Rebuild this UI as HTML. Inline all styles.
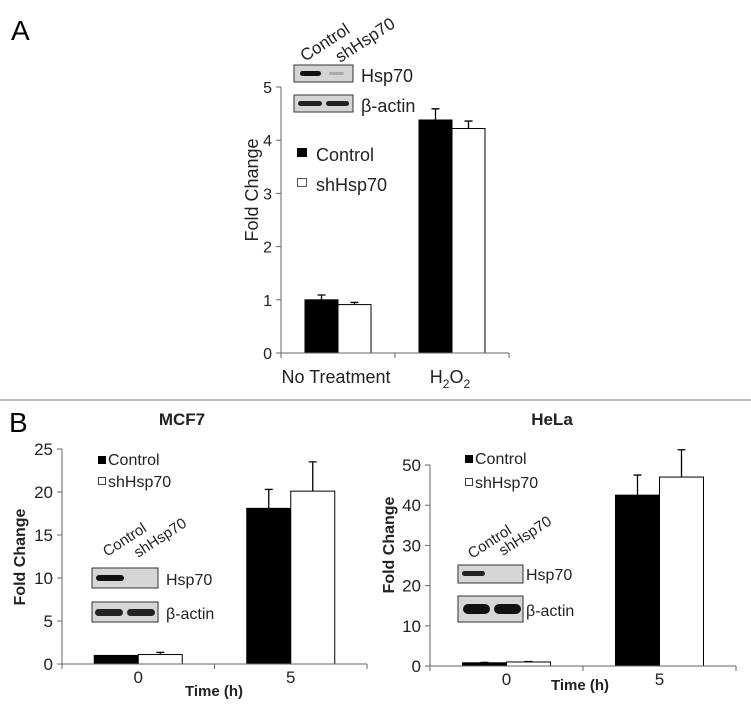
<!DOCTYPE html>
<html><head><meta charset="utf-8"><style>
html,body{margin:0;padding:0;background:#fff;}
svg{display:block;font-family:"Liberation Sans",Arial,sans-serif;}
</style></head><body>
<svg id="fig" width="751" height="713" viewBox="0 0 751 713" xmlns="http://www.w3.org/2000/svg">
<text x="11" y="40" font-size="28">A</text>
<line x1="0" y1="400" x2="751" y2="400" stroke="#bbb" stroke-width="2"/>
<text x="9" y="432" font-size="28">B</text>
</svg>
<script>
// Panel A data
const catsA = ["No Treatment", "H2O2"];
const ctrlA = [1.0, 4.38];
const shA = [0.91, 4.22];
const ctrlErrA = [0.09, 0.21];
const shErrA = [0.04, 0.14];
const ticksA = [0,1,2,3,4,5];
// MCF7 data
const catsM = ["0", "5"];
const ctrlM = [1.0, 18.1];
const shM = [1.1, 20.1];
const ctrlErrM = [0.0, 2.2];
const shErrM = [0.25, 3.4];
const ticksM = [0,5,10,15,20,25];
// HeLa data
const catsH = ["0", "5"];
const ctrlH = [0.8, 42.5];
const shH = [1.0, 47.0];
const ctrlErrH = [0.1, 5.0];
const shErrH = [0.1, 6.8];
const ticksH = [0,10,20,30,40,50];

const NS = "http://www.w3.org/2000/svg";
const svg = document.getElementById("fig");
function mk(tag, attrs, parent) {
  const e = document.createElementNS(NS, tag);
  for (const k in attrs) e.setAttribute(k, attrs[k]);
  (parent || svg).appendChild(e);
  return e;
}

function chart(o) {
  const g = mk("g", {});
  
  
  const yScale = v => o.y0 - (v - o.ticks[0]) / (o.ticks[o.ticks.length-1] - o.ticks[0]) * (o.y0 - o.yTop);
  const n = o.cats.length;
  const bandW = (o.xEnd - o.x0) / n;
  const xCenter = i => o.x0 + bandW * (i + 0.5);
  for (let i = 0; i < n; i++) {
    const c = xCenter(i);
    [[o.ctrl, o.ctrlErr, -1, "#000", "control"], [o.sh, o.shErr, 0, "#fff", "shhsp70"]].forEach(s => {
      const v = s[0][i], e = s[1][i];
      const x = c + s[2] * o.barW;
      const y = yScale(v);
      const r = mk("rect", {x: x, y: y, width: o.barW, height: o.y0 - y, fill: s[3], stroke: "#000", "stroke-width": 1}, g);
      
      
      if (e > 0) {
        const ex = x + o.barW / 2;
        const ey = yScale(v + e);
        const l = mk("path", {d: `M${ex} ${y}V${ey}M${ex-4} ${ey}H${ex+4}`, stroke: "#000", "stroke-width": 1.3, fill: "none"}, g);
        
        
      }
    });
  }
  const ax = mk("path", {d: `M${o.x0} ${o.yTop}V${o.y0}H${o.xEnd}`, stroke: "#666", "stroke-width": 1, fill: "none"}, g);
  
  
  for (let i = 0; i <= n; i++) {
    const tx = o.x0 + bandW * i;
    const t = mk("line", {x1: tx, x2: tx, y1: o.y0, y2: o.y0 + 5, stroke: "#666"}, g);
    
    
  }
  o.ticks.forEach(v => {
    const y = yScale(v);
    const t = mk("line", {x1: o.x0 - 5, x2: o.x0, y1: y, y2: y, stroke: "#666"}, g);
    
    
    const lb = mk("text", {x: o.x0 - 9, y: y + 6, "font-size": o.fs, "text-anchor": "end", fill: "#222"}, g);
    lb.textContent = v;
    
    
  });
  o.cats.forEach((c, i) => {
    const lb = mk("text", {x: xCenter(i) + (o.catDx || 0), y: o.catY, "font-size": o.catFs || o.fs, "text-anchor": "middle", fill: "#222"}, g);
    if (c === "H2O2") {
      lb.innerHTML = 'H<tspan font-size="12" dy="5">2</tspan><tspan dy="-5">O</tspan><tspan font-size="12" dy="5">2</tspan>';
    } else lb.textContent = c;
    
    
  });
  const yt = mk("text", {x: 0, y: 0, transform: `translate(${o.ytX},${o.ytY}) rotate(-90)`, "font-size": o.ytFs, "font-weight": o.bold ? "bold" : "normal", "text-anchor": "middle", fill: "#222"}, g);
  yt.textContent = "Fold Change";
  
  
  return g;
}

chart({name: "chart-a", cats: catsA, ctrl: ctrlA, sh: shA, ctrlErr: ctrlErrA, shErr: shErrA, ticks: ticksA,
  x0: 281, xEnd: 509, y0: 353, yTop: 87, barW: 33, fs: 16, catY: 383, catFs: 18, catDx: -2,
  ytX: 258, ytY: 190, ytFs: 18, bold: false});
chart({name: "chart-mcf7", cats: catsM, ctrl: ctrlM, sh: shM, ctrlErr: ctrlErrM, shErr: shErrM, ticks: ticksM,
  x0: 62, xEnd: 367, y0: 664, yTop: 449, barW: 44, fs: 17, catY: 683, catFs: 17,
  ytX: 25, ytY: 557, ytFs: 16, bold: true});
chart({name: "chart-hela", cats: catsH, ctrl: ctrlH, sh: shH, ctrlErr: ctrlErrH, shErr: shErrH, ticks: ticksH,
  x0: 430, xEnd: 736, y0: 666, yTop: 465, barW: 44, fs: 17, catY: 685, catFs: 17,
  ytX: 394, ytY: 545, ytFs: 16, bold: true});
</script>
<svg style="position:absolute;left:0;top:0" width="751" height="713" xmlns="http://www.w3.org/2000/svg" font-family="Liberation Sans, Arial, sans-serif">
  <rect x="297" y="148" width="10" height="9" fill="#000"/>
  <text x="316" y="161" font-size="18" fill="#222">Control</text>
  <rect x="297.5" y="178.5" width="9" height="8" fill="#fff" stroke="#555"/>
  <text x="316" y="191" font-size="18" fill="#222">shHsp70</text>
  <g>
    <text transform="translate(305,62) rotate(-33)" font-size="17" fill="#222">Control</text>
    <text transform="translate(340,63) rotate(-33)" font-size="17" fill="#222">shHsp70</text>
    <rect x="294" y="65" width="59" height="17" fill="#d4d4d4" stroke="#333"/>
    <rect x="300" y="71" width="21" height="5" rx="2.5" fill="#111"/>
    <rect x="329" y="72" width="15" height="3" rx="1.5" fill="#aaa"/>
    <rect x="294" y="95" width="59" height="17" fill="#d4d4d4" stroke="#333"/>
    <rect x="298" y="101" width="24" height="5" rx="2.5" fill="#222"/>
    <rect x="326" y="101" width="23" height="5" rx="2.5" fill="#222"/>
    <text x="361" y="82" font-size="18" fill="#222">Hsp70</text>
    <text x="361" y="112" font-size="18" fill="#222">β-actin</text>
  </g>
  <text x="182" y="425" font-size="17" font-weight="bold" text-anchor="middle" fill="#222">MCF7</text>
  <text x="214" y="696" font-size="15" font-weight="bold" text-anchor="middle" fill="#222">Time (h)</text>
  <rect x="98" y="456" width="8" height="8" fill="#000"/>
  <text x="108" y="465" font-size="16" fill="#222">Control</text>
  <rect x="98.5" y="477.5" width="7" height="7" fill="#fff" stroke="#444"/>
  <text x="108" y="487" font-size="16" fill="#222">shHsp70</text>
  <g>
    <text transform="translate(107,557) rotate(-33)" font-size="15" fill="#222">Control</text>
    <text transform="translate(138,558) rotate(-33)" font-size="15" fill="#222">shHsp70</text>
    <rect x="92" y="568" width="66" height="20" fill="#d6d6d6" stroke="#333"/>
    <rect x="96" y="575" width="28" height="6" rx="3" fill="#111"/>
    <rect x="92" y="602" width="66" height="20" fill="#d6d6d6" stroke="#333"/>
    <rect x="95" y="609" width="28" height="7" rx="3.5" fill="#222"/>
    <rect x="127" y="609" width="28" height="7" rx="3.5" fill="#222"/>
    <text x="166" y="585" font-size="16" fill="#222">Hsp70</text>
    <text x="166" y="619" font-size="16" fill="#222">β-actin</text>
  </g>
  <text x="552" y="425" font-size="17" font-weight="bold" text-anchor="middle" fill="#222">HeLa</text>
  <text x="580" y="690" font-size="15" font-weight="bold" text-anchor="middle" fill="#222">Time (h)</text>
  <rect x="465" y="455" width="8" height="8" fill="#000"/>
  <text x="475" y="464" font-size="16" fill="#222">Control</text>
  <rect x="465.5" y="478.5" width="7" height="7" fill="#fff" stroke="#444"/>
  <text x="475" y="488" font-size="16" fill="#222">shHsp70</text>
  <g>
    <text transform="translate(472,559) rotate(-33)" font-size="15" fill="#222">Control</text>
    <text transform="translate(503,556) rotate(-33)" font-size="15" fill="#222">shHsp70</text>
    <rect x="458" y="565" width="65" height="18" fill="#d6d6d6" stroke="#333"/>
    <rect x="462" y="571" width="23" height="5" rx="2.5" fill="#222"/>
    <rect x="458" y="596" width="65" height="26" fill="#d6d6d6" stroke="#333"/>
    <rect x="463" y="604" width="27" height="10" rx="5" fill="#111"/>
    <rect x="494" y="604" width="27" height="10" rx="5" fill="#111"/>
    <text x="526" y="580" font-size="16" fill="#222">Hsp70</text>
    <text x="526" y="616" font-size="16" fill="#222">β-actin</text>
  </g>
</svg>
</body></html>
